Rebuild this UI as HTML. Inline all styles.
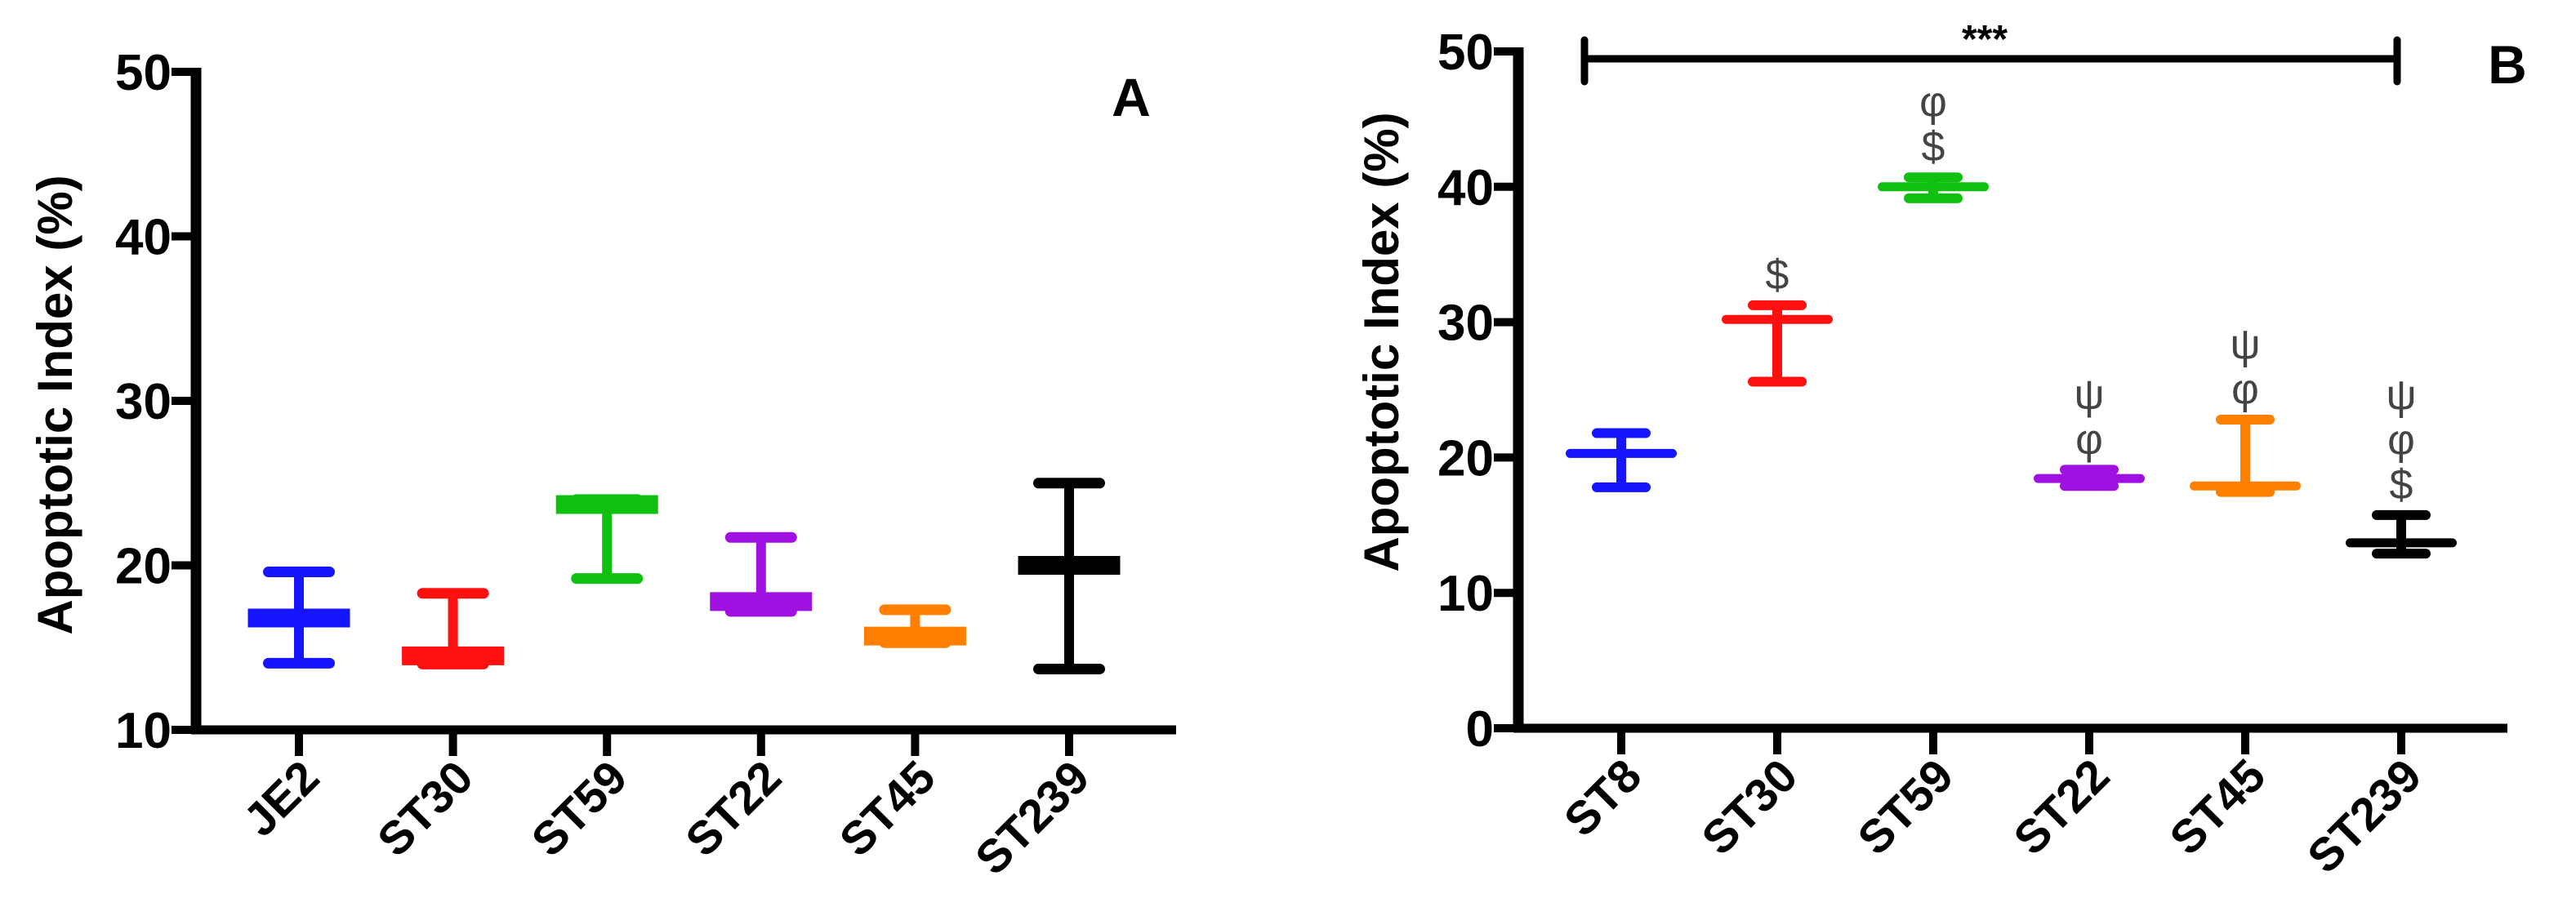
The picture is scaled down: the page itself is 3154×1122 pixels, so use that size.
<!DOCTYPE html>
<html><head><meta charset="utf-8"><style>
html,body{margin:0;padding:0;background:#fff;}
svg{display:block;font-family:"Liberation Sans",sans-serif;}
</style></head><body>
<svg id="chart" width="3154" height="1122" viewBox="0 0 3154 1122" xmlns="http://www.w3.org/2000/svg"></svg>
<script>
const catsA = ["JE2","ST30","ST59","ST22","ST45","ST239"];
const meanA = [16.8,14.5,23.7,17.8,15.7,20.0];
const hiA = [19.6,18.3,24.0,21.7,17.3,25.0];
const loA = [14.05,14.0,19.2,17.2,15.3,13.7];
const ticksA = [10,20,30,40,50];
const catsB = ["ST8","ST30","ST59","ST22","ST45","ST239"];
const meanB = [20.3,30.2,40.0,18.45,17.9,13.7];
const hiB = [21.8,31.25,40.7,19.1,22.8,15.75];
const loB = [17.8,25.6,39.15,17.9,17.45,12.9];
const ticksB = [0,10,20,30,40,50];
const colors = ["#1515ff","#ff1010","#10c010","#a010e0","#ff8000","#000000"];
const symbolsB = [[],["$"],["$","φ"],["φ","ψ"],["φ","ψ"],["$","φ","ψ"]];

const NS="http://www.w3.org/2000/svg";
const svg=document.getElementById('chart');
function mk(tag,attrs,parent){const e=document.createElementNS(NS,tag);for(const k in attrs)e.setAttribute(k,attrs[k]);(parent||svg).appendChild(e);return e;}

function panel(cfg){
  const g=mk('g',{});
  
  
  const y=v=>cfg.y0-(v-cfg.vmin)/(cfg.vmax-cfg.vmin)*(cfg.y0-cfg.y1);
  const x=i=>cfg.x0+cfg.step*i;
  const ya=mk('line',{x1:cfg.ax,y1:cfg.y1-5,x2:cfg.ax,y2:cfg.y0+5,stroke:'#000','stroke-width':13},g);
  
  const xa=mk('line',{x1:cfg.ax-6,y1:cfg.y0,x2:cfg.axEnd,y2:cfg.y0,stroke:'#000','stroke-width':11},g);
  
  cfg.ticks.forEach(t=>{
    const l=mk('line',{x1:cfg.ax-30,y1:y(t),x2:cfg.ax,y2:y(t),stroke:'#000','stroke-width':10},g);
    
    const tx=mk('text',{x:cfg.ax-30,y:y(t)+22,'text-anchor':'end','font-size':62,'font-weight':'bold'},g);
    tx.textContent=t;
    
  });
  cfg.cats.forEach((c,i)=>{
    const l=mk('line',{x1:x(i),y1:cfg.y0,x2:x(i),y2:cfg.y0+32,stroke:'#000','stroke-width':10},g);
    
    const tx=mk('text',{x:0,y:0,'text-anchor':'end','font-size':57,'font-weight':'bold',transform:`translate(${x(i)+28},${cfg.y0+62}) rotate(-45)`},g);
    tx.textContent=c;
    
    const col=colors[i];
    const eg=mk('g',{},g);
    
    mk('line',{x1:x(i),y1:y(cfg.hi[i]),x2:x(i),y2:y(cfg.lo[i]),stroke:col,'stroke-width':12},eg);
    mk('line',{x1:x(i)-cfg.capW/2,y1:y(cfg.hi[i]),x2:x(i)+cfg.capW/2,y2:y(cfg.hi[i]),stroke:col,'stroke-width':cfg.capT,'stroke-linecap':'round'},eg);
    mk('line',{x1:x(i)-cfg.capW/2,y1:y(cfg.lo[i]),x2:x(i)+cfg.capW/2,y2:y(cfg.lo[i]),stroke:col,'stroke-width':cfg.capT,'stroke-linecap':'round'},eg);
    const m=mk('line',{x1:x(i)-cfg.meanW/2,y1:y(cfg.mean[i]),x2:x(i)+cfg.meanW/2,y2:y(cfg.mean[i]),stroke:col,'stroke-width':cfg.meanT,'stroke-linecap':cfg.cap},eg);
    
    if(cfg.syms){
      let yy=y(cfg.hi[i])-20;
      cfg.syms[i].forEach(s=>{
        const st=mk('text',{x:x(i),y:yy,'text-anchor':'middle','font-size':52,fill:'#444'},g);
        st.textContent=s;
        
        yy-=55;
      });
    }
  });
  const yt=mk('text',{x:0,y:0,'text-anchor':'middle','font-size':60,'font-weight':'bold',transform:`translate(${cfg.titleX},${cfg.titleY}) rotate(-90)`},g);
  yt.textContent='Apoptotic Index (%)';
  
  const pl=mk('text',{x:cfg.lx,y:cfg.ly,'text-anchor':'middle','font-size':66,'font-weight':'bold'},g);
  pl.textContent=cfg.label;
  
  return {x,y,g};
}

panel({name:'panel-a',cats:catsA,mean:meanA,hi:hiA,lo:loA,ticks:ticksA,vmin:10,vmax:50,
  y0:894,y1:88,ax:240,axEnd:1440,x0:366,step:188.6,capW:75,capT:13,meanW:125,meanT:23,cap:'butt',
  titleX:88,titleY:496,lx:1385,ly:142,label:'A'});

const pb=panel({name:'panel-b',cats:catsB,mean:meanB,hi:hiB,lo:loB,ticks:ticksB,vmin:0,vmax:50,syms:symbolsB,
  y0:892,y1:63,ax:1859,axEnd:3070,x0:1985,step:191,capW:60,capT:12,meanW:125,meanT:11,cap:'round',
  titleX:1712,titleY:419,lx:3070,ly:102,label:'B'});

const sig=mk('g',{});

mk('line',{x1:pb.x(0)-45,y1:72,x2:pb.x(5)-5,y2:72,stroke:'#000','stroke-width':9},sig);
mk('line',{x1:pb.x(0)-45,y1:49,x2:pb.x(0)-45,y2:100,stroke:'#000','stroke-width':9,'stroke-linecap':'round'},sig);
mk('line',{x1:pb.x(5)-5,y1:49,x2:pb.x(5)-5,y2:100,stroke:'#000','stroke-width':9,'stroke-linecap':'round'},sig);
const st=mk('text',{x:2430,y:64,'text-anchor':'middle','font-size':48,'font-weight':'bold'},sig);
st.textContent='***';

</script>
</body></html>
